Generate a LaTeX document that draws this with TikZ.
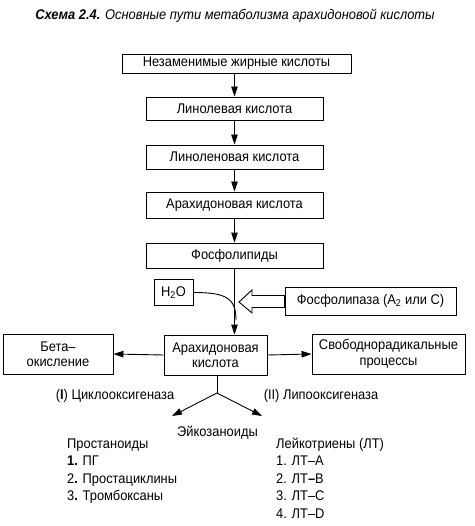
\documentclass[tikz,border=0pt]{standalone}
\usepackage{fontspec}
\setmainfont[FakeStretch=0.92]{Liberation Sans}
\usetikzlibrary{arrows.meta}
\begin{document}
\begin{tikzpicture}[x=1pt,y=-1pt,
  box/.style={draw,line width=0.9pt,inner sep=0pt,align=center,font=\fontsize{14}{15.5}\selectfont},
  txt/.style={inner sep=0pt,font=\fontsize{14}{15}\selectfont},
  lst/.style={inner sep=0pt,anchor=base west,font=\fontsize{14}{15}\selectfont},
  arr/.style={line width=0.9pt,-{Triangle[length=10pt,width=6.5pt]}},
  ln/.style={line width=0.9pt}]
\useasboundingbox (0,0) rectangle (474,526);
\node[inner sep=0pt,font=\fontsize{14}{15}\selectfont\itshape] (title) at (235,16)
  {\textbf{Схема 2.4.} Основные пути метаболизма арахидоновой кислоты};
\node[box,minimum width=229pt,minimum height=19pt] (b1) at (236.5,63.5) {Незаменимые жирные кислоты};
\node[box,minimum width=177pt,minimum height=23pt] (b2) at (234.5,108.5) {Линолевая кислота};
\node[box,minimum width=177pt,minimum height=24pt] (b3) at (234.5,157) {Линоленовая кислота};
\node[box,minimum width=177pt,minimum height=26pt] (b4) at (234.5,205) {Арахидоновая кислота};
\node[box,minimum width=177pt,minimum height=25pt] (b5) at (234.5,255.5) {Фосфолипиды};
\node[box,minimum width=39pt,minimum height=26pt] (h2o) at (173.5,292.5) {H\textsubscript{2}O};
\node[box,minimum width=171pt,minimum height=28pt] (pl) at (370.5,301) {Фосфолипаза (А\textsubscript{2} или С)};
\node[box,minimum width=110pt,minimum height=40pt] (beta) at (58,354) {Бета–\\окисление};
\node[box,minimum width=103pt,minimum height=40pt] (ak) at (215.5,355) {Арахидоновая\\кислота};
\node[box,minimum width=153pt,minimum height=40pt] (sv) at (388.5,354) {Свободнорадикальные\\процессы};
% vertical chain
\draw[arr] (b1.south -| b2.north) -- (b2.north);
\draw[arr] (b2) -- (b3);
\draw[arr] (b3) -- (b4);
\draw[arr] (b4) -- (b5);
\draw[arr] (b5.south) -- (b5.south |- ak.north);
\draw[ln] (h2o.east) .. controls (226,292.5) and (236,298) .. (236,320);
% hollow arrow
\draw[line width=0.9pt] (239,302) -- (252,290) -- (252,295.5) -- (pl.west |- 0,295.5) -- (pl.west |- 0,307.5) -- (252,307.5) -- (252,313) -- cycle;
% side arrows
\draw[arr] (ak.west) -- (beta.east);
\draw[arr] (ak.east) -- (sv.west);
% branch
\coordinate (fork) at (217,393);
\coordinate (eL) at (172,416);
\coordinate (eR) at (262,416);
\draw[ln] (ak.south -| fork) -- (fork);
\draw[arr] (fork) -- (eL);
\draw[arr] (fork) -- (eR);
\node[txt] (cox) at (115,396) {(\textbf{I}) Циклооксигеназа};
\node[txt] (lox) at (321,396) {(II) Липооксигеназа};
\node[txt] (eik) at (217.5,433) {Эйкозаноиды};
\node[lst] (p0) at (67,448) {Простаноиды};
\node[lst] (p1) at (67,465.5) {\textbf{1.} ПГ};
\node[lst] (p2) at (67,483) {2\textbf{.} Простациклины};
\node[lst] (p3) at (67,500.5) {3\textbf{.} Тромбоксаны};
\node[lst] (l0) at (276,448) {Лейкотриены (ЛТ)};
\node[lst] (l1) at (276,465.5) {1. ЛТ–А};
\node[lst] (l2) at (276,483) {2. ЛТ\textbf{–}В};
\node[lst] (l3) at (276,500.5) {3. ЛТ–С};
\node[lst] (l4) at (276,518) {4. ЛТ–D};
\end{tikzpicture}
\end{document}
